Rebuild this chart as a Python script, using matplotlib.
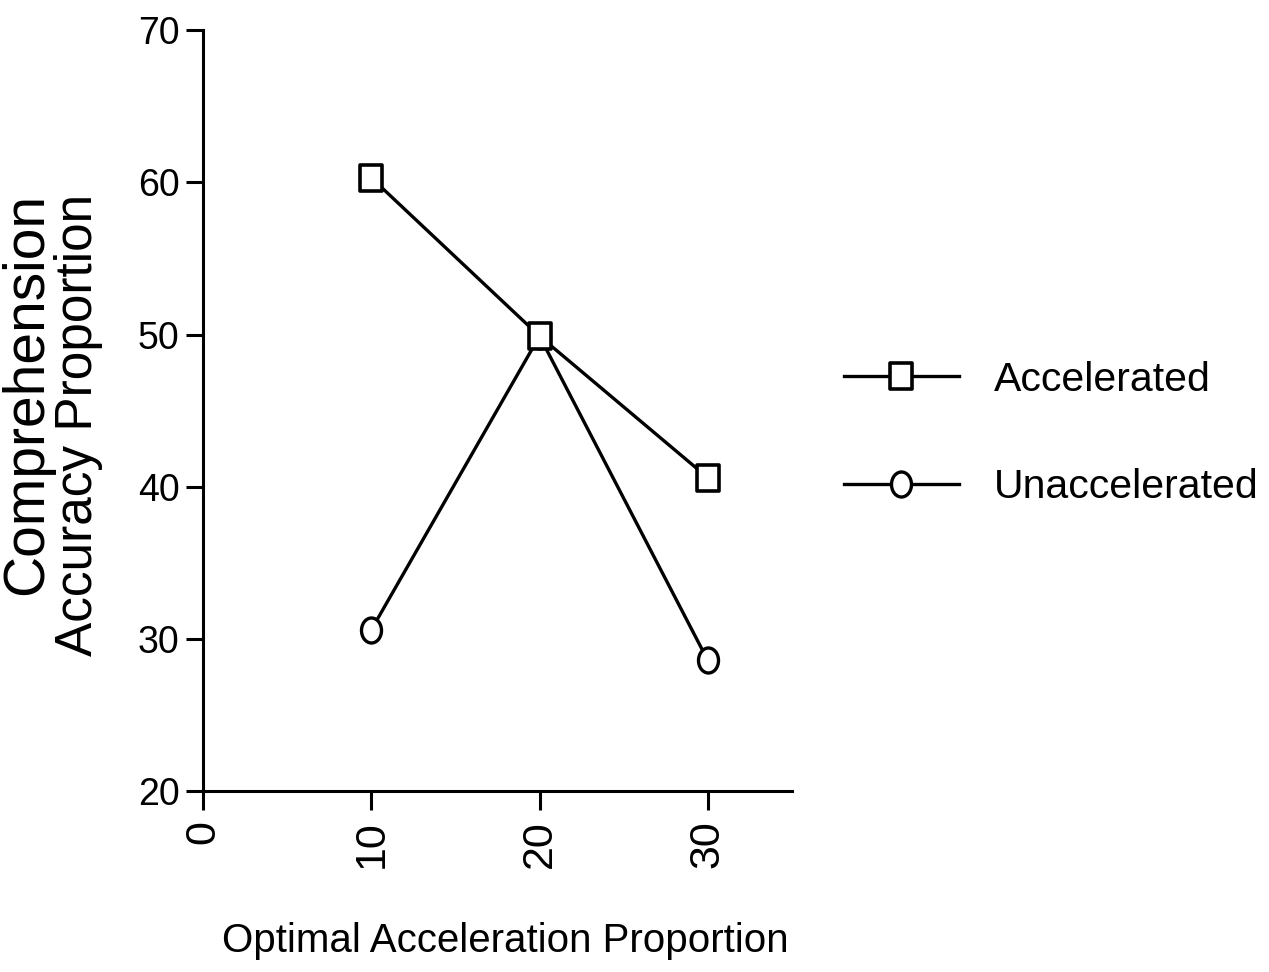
import matplotlib
matplotlib.use("Agg")
import matplotlib.pyplot as plt
from matplotlib.path import Path
from matplotlib.transforms import Affine2D

# data
x_vals = [10, 20, 30]
accelerated = [60.3, 49.9, 40.6]
unaccelerated = [30.6, 49.9, 28.6]
x_ticks = [0, 10, 20, 30]
y_ticks = [20, 30, 40, 50, 60, 70]

font = "Liberation Sans"

# squashed markers (the original picture looks compressed sideways)
sq = Path([(-0.4, -0.5), (0.4, -0.5), (0.4, 0.5), (-0.4, 0.5), (-0.4, -0.5)],
          [Path.MOVETO, Path.LINETO, Path.LINETO, Path.LINETO, Path.CLOSEPOLY])
circ = Path.unit_circle().transformed(Affine2D().scale(0.4, 0.5))

fig = plt.figure(figsize=(12.69, 9.72), dpi=100)
ax = fig.add_axes([0.16, 0.186, 0.464, 0.783])

l2, = ax.plot(x_vals, unaccelerated, color="black", lw=2.4, marker=circ, markersize=18,
              markerfacecolor="white", markeredgewidth=2.4, label="Unaccelerated",
              clip_on=False, zorder=3)
l1, = ax.plot(x_vals, accelerated, color="black", lw=2.4, marker=sq, markersize=19,
              markerfacecolor="white", markeredgewidth=2.6, label="Accelerated",
              clip_on=False, zorder=4)

ax.set_xlim(0, 35)
ax.set_ylim(20, 70)
ax.set_xticks(x_ticks)
ax.set_yticks(y_ticks)

for s in ["top", "right"]:
    ax.spines[s].set_visible(False)
for s in ["left", "bottom"]:
    ax.spines[s].set_linewidth(2.2)

ax.tick_params(axis="x", length=14, width=2.2, pad=7)
ax.tick_params(axis="y", length=12, width=2.2, pad=5)

for lab in ax.get_xticklabels():
    lab.set_rotation(90)
    lab.set_fontfamily(font)
    lab.set_fontsize(31)
for lab in ax.get_yticklabels():
    lab.set_fontfamily(font)
    lab.set_fontsize(27)

ax.set_xlabel("Optimal Acceleration Proportion", fontfamily=font, fontsize=29)
ax.xaxis.set_label_coords(0.513, -0.172)

# y label, two lines drawn separately (first line is set larger in the original)
fig.text(0.0215, 0.5947, "Comprehension", rotation=90, ha="center", va="center",
         fontfamily=font, fontsize=41)
fig.text(0.0615, 0.5628, "Accuracy Proportion", rotation=90, ha="center", va="center",
         fontfamily=font, fontsize=37)

fig.legend([l1, l2], ["Accelerated", "Unaccelerated"], loc="center left",
           bbox_to_anchor=(0.649, 0.554), frameon=False,
           prop={"family": font, "size": 29.5}, handlelength=2.8,
           handletextpad=0.85, labelspacing=1.7, borderpad=0)

fig.savefig("out.png", dpi=100)
